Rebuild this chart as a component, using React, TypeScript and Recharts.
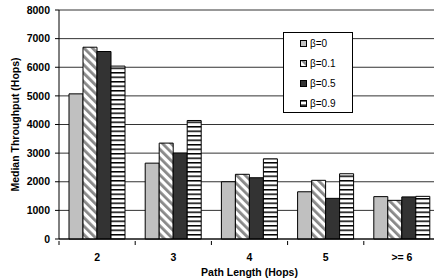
import { BarChart, Bar, XAxis, YAxis, CartesianGrid, Legend } from 'recharts';

const categories = ['2', '3', '4', '5', '>= 6'];
const beta0 = [5070, 2650, 2000, 1650, 1480];
const beta01 = [6700, 3350, 2260, 2050, 1350];
const beta05 = [6550, 3000, 2140, 1420, 1470];
const beta09 = [6040, 4140, 2800, 2280, 1490];
const yTicks = [0, 1000, 2000, 3000, 4000, 5000, 6000, 7000, 8000];

const seriesNames = ['β=0', 'β=0.1', 'β=0.5', 'β=0.9'];
const seriesKeys = ['b0', 'b01', 'b05', 'b09'];
const seriesFills = ['#c0c0c0', 'url(#diagStripes)', '#333333', 'url(#hStripes)'];

const data = categories.map((name, i) => ({
    name,
    b0: beta0[i],
    b01: beta01[i],
    b05: beta05[i],
    b09: beta09[i],
}));

const font = '"Liberation Sans", Arial, sans-serif';

const XTick = (props: any) => {
    const { x, y, payload } = props;
    const off = payload?.offset ?? 0;
    return (
        <g>
            <line x1={x - off} y1={y} x2={x - off} y2={y + 4} stroke="#000" />
            <text x={x} y={y + 20} textAnchor="middle" fontSize={10.5} fontWeight="bold" fill="#000" fontFamily={font}>
                {payload.value}
            </text>
        </g>
    );
};

const LegendBox = () => (
    <div
        style={{
            border: '1px solid #000',
            background: '#fff',
            width: 68,
            height: 79,
            boxSizing: 'content-box',
            fontFamily: font,
            fontSize: 10,
            color: '#000',
        }}
    >
        {seriesNames.map((n, i) => (
            <div key={n} style={{ display: 'flex', alignItems: 'center', height: 20, paddingLeft: 16 }}>
                <svg width={7} height={7} style={{ marginRight: 3 }}>
                    <rect x={0.5} y={0.5} width={6} height={6} fill={seriesFills[i]} stroke="#000" />
                </svg>
                <span>{n}</span>
            </div>
        ))}
    </div>
);

const App = () => {
    return (
        <div style={{ position: 'absolute', left: 0, top: 0, width: 434, height: 279, overflow: 'hidden', background: '#fff' }}>
            <BarChart
                width={442}
                height={279}
                data={data}
                margin={{ top: 10, right: 2, left: 0, bottom: 0 }}
                barCategoryGap={10}
                barGap={0}
            >
                <defs>
                    <pattern id="diagStripes" width="6" height="6" patternUnits="userSpaceOnUse" patternTransform="rotate(-45)">
                        <rect width="6" height="6" fill="#fff" />
                        <rect width="2.8" height="6" fill="#888" />
                    </pattern>
                    <pattern id="hStripes" width="4.5" height="4.5" patternUnits="userSpaceOnUse">
                        <rect width="4.5" height="4.5" fill="#fff" />
                        <rect width="4.5" height="1.5" fill="#000" />
                    </pattern>
                </defs>
                <CartesianGrid vertical={false} stroke="#333" />
                <XAxis
                    dataKey="name"
                    height={40}
                    axisLine={{ stroke: '#000' }}
                    tickLine={false}
                    tickSize={0}
                    tick={<XTick />}
                    interval={0}
                    label={{
                        value: 'Path Length (Hops)',
                        position: 'insideBottom',
                        offset: 3,
                        style: { fontSize: 10.5, fontWeight: 'bold', fill: '#000', fontFamily: font },
                    }}
                />
                <YAxis
                    width={59}
                    domain={[0, 8000]}
                    ticks={yTicks}
                    interval={0}
                    axisLine={{ stroke: '#000' }}
                    tickLine={{ stroke: '#000' }}
                    tickSize={4}
                    tickMargin={5}
                    tick={{ fontSize: 10.5, fontWeight: 'bold', fill: '#000', fontFamily: font }}
                    label={{
                        value: 'Median Throughput (Hops)',
                        angle: -90,
                        position: 'insideLeft',
                        offset: 15,
                        style: { fontSize: 10.5, fontWeight: 'bold', fill: '#000', fontFamily: font, textAnchor: 'middle' },
                    }}
                />
                <Legend
                    content={<LegendBox />}
                    layout="vertical"
                    align="center"
                    verticalAlign="middle"
                    wrapperStyle={{ position: 'absolute', left: 283, top: 32, width: 70, height: 81 }}
                />
                {seriesKeys.map((k, i) => (
                    <Bar
                        key={k}
                        dataKey={k}
                        name={seriesNames[i]}
                        fill={seriesFills[i]}
                        stroke="#000"
                        strokeWidth={1}
                        isAnimationActive={false}
                    />
                ))}
            </BarChart>
        </div>
    );
};

export default App;
